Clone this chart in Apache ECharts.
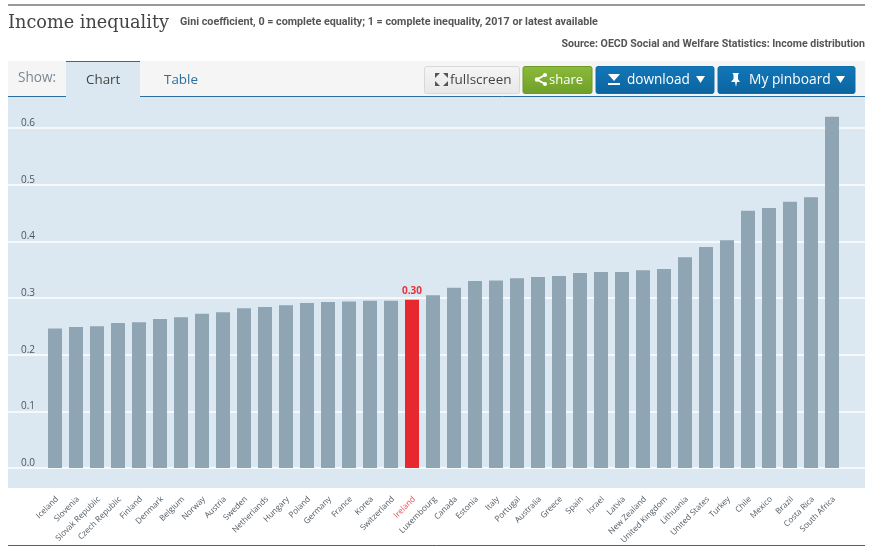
<!DOCTYPE html>
<html><head><meta charset="utf-8">
<style>html,body{margin:0;padding:0;background:#fff}#c{width:874px;height:550px}</style>
<script src="https://cdn.jsdelivr.net/npm/echarts@6/dist/echarts.min.js"></script>
</head><body><div id="c"></div>
<script>
const countries = ["Iceland","Slovenia","Slovak Republic","Czech Republic","Finland","Denmark","Belgium","Norway","Austria","Sweden","Netherlands","Hungary","Poland","Germany","France","Korea","Switzerland","Ireland","Luxembourg","Canada","Estonia","Italy","Portugal","Australia","Greece","Spain","Israel","Latvia","New Zealand","United Kingdom","Lithuania","United States","Turkey","Chile","Mexico","Brazil","Costa Rica","South Africa"];
const gini = [0.246,0.249,0.250,0.256,0.257,0.263,0.266,0.272,0.275,0.282,0.284,0.287,0.291,0.293,0.294,0.295,0.295,0.297,0.305,0.318,0.330,0.331,0.335,0.337,0.339,0.344,0.346,0.346,0.349,0.351,0.372,0.390,0.402,0.454,0.459,0.470,0.478,0.620];
const highlight = "Ireland";
const yTicks = [0,0.1,0.2,0.3,0.4,0.5,0.6];

const chart = echarts.init(document.getElementById('c'), null, {renderer:'canvas'});
const sans = '"Open Sans","Noto Sans",sans-serif';
const cond = 'Roboto,"Noto Sans",sans-serif';
const grad = (a,b) => new echarts.graphic.LinearGradient(0,0,0,1,[{offset:0,color:a},{offset:1,color:b}]);
const btn = (x,w,fill,stroke,label,color,tx,size) => [
  {type:'rect',shape:{x:x,y:66.5,width:w,height:27,r:2},style:{fill:fill,stroke:stroke,lineWidth:1},z:2},
  {type:'text',x:tx,y:80.5,style:{text:label,fill:color,font:size+'px '+sans,textVerticalAlign:'middle'},z:3}
];
const tri = (x) => ({type:'polygon',shape:{points:[[x,76],[x+9,76],[x+4.5,83]]},style:{fill:'#fff'},z:3});
const arrow = (pts) => ({type:'polygon',shape:{points:pts},style:{fill:'#555'},z:3});
chart.setOption({
  animation:false,
  backgroundColor:'#fff',
  grid:[
    {left:8,right:9,top:128,height:340},
    {left:44.5,width:798,top:128,height:340}
  ],
  xAxis:[
    {gridIndex:0,type:'value',min:0,max:1,show:false},
    {gridIndex:1,type:'category',data:countries,axisLine:{show:false},axisTick:{show:false},
     axisLabel:{interval:0,rotate:45,margin:32,padding:[0,-3,0,0],fontSize:8.2,fontFamily:sans,hideOverlap:false,
       color:(v)=>v===highlight?'#e8505a':'#4f5a63'}}
  ],
  yAxis:[
    {gridIndex:0,type:'value',min:0,max:0.6,interval:0.1,position:'left',axisLine:{show:false},axisTick:{show:false},
     splitLine:{show:true,lineStyle:{color:'#ffffff',width:1.5}},
     axisLabel:{inside:true,margin:13,verticalAlign:'bottom',fontSize:10,fontFamily:sans,color:'#4a5560',
       formatter:(v)=>yTicks.includes(+v.toFixed(1))?v.toFixed(1):''}},
    {gridIndex:1,type:'value',min:0,max:0.6,interval:0.1,show:false}
  ],
  series:[{
    type:'bar',xAxisIndex:1,yAxisIndex:1,barWidth:14,z:5,clip:false,
    data:gini.map((v,i)=>({value:v,
      itemStyle:{color:countries[i]===highlight?'#e8282f':'#90a5b3'},
      label:countries[i]===highlight?{show:true,position:'top',distance:4,formatter:(p)=>p.value.toFixed(2),
        color:'#e8313a',fontWeight:'bold',fontSize:10,fontFamily:sans}:{show:false}}))
  }],
  graphic:{elements:[
    {type:'rect',shape:{x:8,y:97,width:857,height:391},style:{fill:'#dce8f1'},z:-10,silent:true},
    {type:'rect',shape:{x:8,y:61,width:857,height:36},style:{fill:'#f5f5f5'},z:-9},
    {type:'rect',shape:{x:66,y:61,width:74,height:37},style:{fill:'#dce8f1'},z:-8},
    {type:'line',shape:{x1:8,y1:5,x2:865,y2:5},style:{stroke:'#999',lineWidth:2}},
    {type:'line',shape:{x1:8,y1:96.5,x2:66,y2:96.5},style:{stroke:'#2a6f9e',lineWidth:1}},
    {type:'line',shape:{x1:140,y1:96.5,x2:865,y2:96.5},style:{stroke:'#2a6f9e',lineWidth:1}},
    {type:'line',shape:{x1:66,y1:61.5,x2:140,y2:61.5},style:{stroke:'#2a6f9e',lineWidth:1}},
    {type:'line',shape:{x1:8,y1:545.5,x2:865,y2:545.5},style:{stroke:'#2a6f8e',lineWidth:1}},
    {type:'text',x:8,y:23,style:{text:'Income inequality',fill:'#444',font:'17.7px "DejaVu Serif",serif',textVerticalAlign:'middle'}},
    {type:'text',x:180,y:22,style:{text:'Gini coefficient, 0 = complete equality; 1 = complete inequality, 2017 or latest available',fill:'#555',font:'bold 10.75px '+cond,textVerticalAlign:'middle'}},
    {type:'text',x:865,y:44,style:{text:'Source: OECD Social and Welfare Statistics: Income distribution',fill:'#555',font:'bold 10.6px '+cond,textAlign:'right',textVerticalAlign:'middle'}},
    {type:'text',x:18,y:78,style:{text:'Show:',fill:'#7a8794',font:'13.6px '+sans,textVerticalAlign:'middle'}},
    {type:'text',x:86,y:80,style:{text:'Chart',fill:'#444',font:'13.4px '+sans,textVerticalAlign:'middle'}},
    {type:'text',x:164,y:80,style:{text:'Table',fill:'#2a6f9e',font:'13.4px '+sans,textVerticalAlign:'middle'}},
    ...btn(424.5,95,grad('#f6f6f6','#e8e8e8'),'#d8d8d8','fullscreen','#444',450,13.5),
    arrow([[435,73],[440,73],[435,78]]), arrow([[448,73],[443,73],[448,78]]),
    arrow([[435,86],[440,86],[435,81]]), arrow([[448,86],[443,86],[448,81]]),
    ...btn(523,69,grad('#8bba3c','#6f9f28'),'#6a9a25','share','#fff',549,13),
    {type:'polyline',shape:{points:[[545,75],[537,79.5],[545,84]]},style:{stroke:'#fff',lineWidth:2,fill:null},z:3},
    {type:'circle',shape:{cx:537,cy:79.5,r:2.2},style:{fill:'#fff'},z:3},
    {type:'circle',shape:{cx:545,cy:75,r:2},style:{fill:'#fff'},z:3},
    {type:'circle',shape:{cx:545,cy:84,r:2},style:{fill:'#fff'},z:3},
    ...btn(596,118,grad('#1277b9','#0c649f'),'#0f6eab','download','#fff',627,13.6),
    {type:'polygon',shape:{points:[[608,74],[620,74],[614,81]]},style:{fill:'#fff'},z:3},
    {type:'rect',shape:{x:608,y:83,width:12,height:2},style:{fill:'#fff'},z:3},
    tri(696),
    ...btn(718,137,grad('#1277b9','#0c649f'),'#0f6eab','My pinboard','#fff',749,13.8),
    {type:'polygon',shape:{points:[[732.5,73],[739,73],[738,75],[738,79],[740,82],[737,82],[736,87],[735,82],[731,82],[733.5,79],[733.5,75]]},style:{fill:'#fff'},z:3},
    tri(836)
  ]}
});
</script></body></html>
